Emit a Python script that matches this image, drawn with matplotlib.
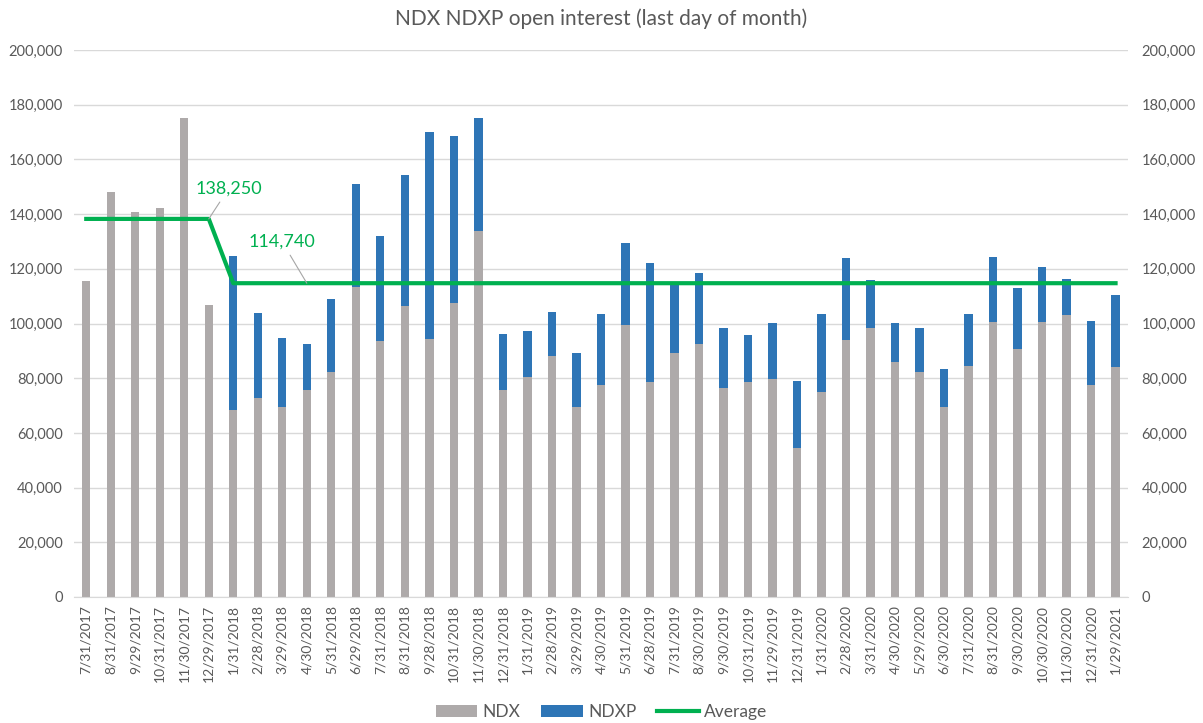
import matplotlib
matplotlib.use('Agg')
import matplotlib.pyplot as plt
from matplotlib.ticker import FuncFormatter
import numpy as np

dates = ['7/31/2017', '8/31/2017', '9/29/2017', '10/31/2017', '11/30/2017', '12/29/2017',
         '1/31/2018', '2/28/2018', '3/29/2018', '4/30/2018', '5/31/2018', '6/29/2018',
         '7/31/2018', '8/31/2018', '9/28/2018', '10/31/2018', '11/30/2018', '12/31/2018',
         '1/31/2019', '2/28/2019', '3/29/2019', '4/30/2019', '5/31/2019', '6/28/2019',
         '7/31/2019', '8/30/2019', '9/30/2019', '10/31/2019', '11/29/2019', '12/31/2019',
         '1/31/2020', '2/28/2020', '3/31/2020', '4/30/2020', '5/29/2020', '6/30/2020',
         '7/31/2020', '8/31/2020', '9/30/2020', '10/30/2020', '11/30/2020', '12/31/2020',
         '1/29/2021']

# NDX open interest (gray part)
ndx = [115400, 148000, 140800, 142100, 175300, 106600,
       68400, 72800, 69500, 75800, 82100, 113500,
       93600, 106400, 94500, 107400, 133900, 75700,
       80300, 88100, 69600, 77600, 99300, 78500,
       89300, 92600, 76500, 78500, 79700, 54600,
       75000, 93900, 98500, 86000, 82400, 69600,
       84600, 100400, 90600, 100700, 103100, 77400,
       84000]

# total (NDX + NDXP) bar heights
total = [115400, 148000, 140800, 142100, 175300, 106600,
         124700, 104000, 94700, 92500, 108800, 151000,
         132000, 154300, 169900, 168400, 175000, 96200,
         97100, 104300, 89300, 103400, 129300, 122000,
         114600, 118500, 98400, 95700, 100100, 78900,
         103400, 124100, 115800, 100100, 98400, 83200,
         103400, 124300, 113000, 120800, 116300, 101000,
         110300]

ndxp = [t - n for t, n in zip(total, ndx)]

average = [138250] * 6 + [114740] * 37

gray = '#AEAAAA'
blue = '#2E75B6'
green = '#00B050'
text_color = '#595959'

plt.rcParams['font.family'] = ['Lato', 'DejaVu Sans']

fig = plt.figure(figsize=(12.03, 7.23), dpi=100)
ax = fig.add_axes([0.0615, 0.1743, 0.876, 0.7565])

x = np.arange(len(dates))
width = 0.34
ax.bar(x, ndx, width, color=gray, label='NDX', zorder=2)
ax.bar(x, ndxp, width, bottom=ndx, color=blue, label='NDXP', zorder=2)
ax.plot(x, average, color=green, lw=3, label='Average', zorder=3)

ax.set_xlim(-0.5, len(dates) - 0.5)
ax.set_ylim(0, 200000)
ax.set_yticks(range(0, 200001, 20000))
fmt = FuncFormatter(lambda v, p: '{:,.0f}'.format(v))
ax.yaxis.set_major_formatter(fmt)
ax.grid(axis='y', color='#D9D9D9', lw=1, zorder=0)
ax.set_axisbelow(True)
for s in ['top', 'left', 'right']:
    ax.spines[s].set_visible(False)
ax.spines['bottom'].set_color('#D9D9D9')
ax.set_xticks(x)
ax.set_xticklabels(dates, rotation=90, fontsize=10, color=text_color)
ax.tick_params(axis='x', length=0, pad=6)
ax.tick_params(axis='y', length=0, labelsize=10.5, labelcolor=text_color, pad=8)

ax2 = ax.twinx()
ax2.set_ylim(0, 200000)
ax2.set_yticks(range(0, 200001, 20000))
ax2.yaxis.set_major_formatter(fmt)
ax2.tick_params(axis='y', length=0, labelsize=10.5, labelcolor=text_color, pad=10)
for s in ax2.spines.values():
    s.set_visible(False)

ax.annotate('138,250', xy=(5, 138250), xytext=(5.8, 149200), ha='center', va='center',
            color=green, fontsize=13,
            arrowprops=dict(arrowstyle='-', color='#A6A6A6', lw=0.8, shrinkA=2, shrinkB=0))
ax.annotate('114,740', xy=(9, 114740), xytext=(8.0, 129800), ha='center', va='center',
            color=green, fontsize=13,
            arrowprops=dict(arrowstyle='-', color='#A6A6A6', lw=0.8, shrinkA=2, shrinkB=0))

fig.suptitle('NDX NDXP open interest (last day of month)', y=0.988, fontsize=15,
             color=text_color)

h, l = ax.get_legend_handles_labels()
order = [1, 2, 0]
fig.legend([h[i] for i in order], [l[i] for i in order], loc='lower center', ncol=3,
           frameon=False, fontsize=12.5, labelcolor=text_color, bbox_to_anchor=(0.5, -0.018),
           handlelength=2.4, columnspacing=1.2, handletextpad=0.3)

fig.savefig('out.png', dpi=100)
